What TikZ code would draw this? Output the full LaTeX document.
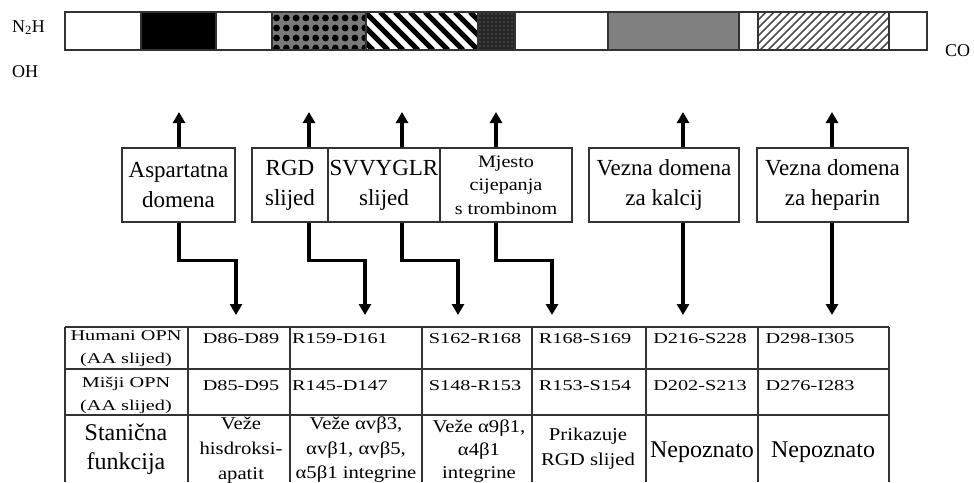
\documentclass[tikz,border=0pt]{standalone}
\usepackage{fontspec}
\setmainfont{Liberation Serif}
\newfontfamily\widefont[FakeStretch=1.35]{Liberation Serif}
\newfontfamily\midfont[FakeStretch=1.15]{Liberation Serif}
\usetikzlibrary{arrows.meta}
\begin{document}
\begin{tikzpicture}[x=1pt,y=-1pt,
  boxlbl/.style={draw=black!80, line width=1.3pt, inner sep=0pt, align=center, font=\fontsize{23}{30}\selectfont},
  arr/.style={line width=3.6pt, -{Triangle[width=12pt,length=11pt]}},
  tline/.style={draw=black!80, line width=1.3pt},
  small/.style={font=\widefont\fontsize{15}{23}\selectfont, inner sep=0pt, anchor=base},
  mid/.style={font=\midfont\fontsize{18}{25}\selectfont, inner sep=0pt, anchor=base},
  big/.style={font=\fontsize{24}{30}\selectfont, inner sep=0pt, anchor=base},
  endlbl/.style={font=\fontsize{18}{20}\selectfont, inner sep=0pt},
]
\useasboundingbox (0,0) rectangle (974,482);
\fill[white] (0,0) rectangle (974,482);

% ---------- protein bar ----------
\fill[black] (141,12) rectangle (216,50);
\begin{scope}
  \clip (272,12) rectangle (366,50);
  \fill[black!52] (272,12) rectangle (366,50);
  \foreach \xx in {276.5,286.3,...,370} {
    \foreach \yy in {18,28,38,48} {
      \fill[black] (\xx,\yy) circle (3.4);
    }
  }
\end{scope}
\begin{scope}
  \clip (366,12) rectangle (478,50);
  \foreach \xx in {320,335,...,480} {
    \draw[black, line width=5pt] (\xx,12) -- (\xx+38,50);
  }
\end{scope}
\begin{scope}
  \clip (478,12) rectangle (515,50);
  \fill[black!85] (478,12) rectangle (515,50);
  \foreach \xx in {480,484,...,515} {
    \foreach \yy in {14,18,...,50} {
      \fill[white!55!black] (\xx,\yy) circle (0.7);
    }
  }
\end{scope}
\fill[black!50] (608,12) rectangle (739,50);
\begin{scope}
  \clip (758,12) rectangle (889,50);
  \foreach \xx in {720,728,...,890} {
    \draw[black!75, line width=1.4pt] (\xx,50) -- (\xx+38,12);
  }
\end{scope}
\draw[black!80, line width=1.4pt] (65,12) rectangle (927,50);
\foreach \xx in {141,216,272,366,478,515,608,739,758,889} {
  \draw[black!80, line width=1.2pt] (\xx,12) -- (\xx,50);
}

\node[endlbl, anchor=base west] (nh) at (12,32) {N\textsubscript{2}H};
\node[endlbl, anchor=base west] (oh) at (12,77) {OH};
\node[endlbl, anchor=base west] (co) at (945,56) {CO};

% ---------- label boxes ----------
\node[boxlbl, minimum width=113pt, minimum height=74pt] (asp) at (178.5,185) {Aspartatna\\domena};
\node[boxlbl, minimum width=76pt, minimum height=74pt] (rgd) at (290,185) {RGD\\slijed};
\node[boxlbl, minimum width=112pt, minimum height=74pt] (svv) at (384,185) {SVVYGLR\\slijed};
\node[boxlbl, minimum width=132pt, minimum height=74pt, font=\midfont\fontsize{17.5}{23.5}\selectfont] (mje) at (506,185) {Mjesto\\cijepanja\\s trombinom};
\node[boxlbl, minimum width=150pt, minimum height=74pt] (cal) at (664,185) {Vezna domena\\za kalcij};
\node[boxlbl, minimum width=151pt, minimum height=74pt] (hep) at (832.5,185) {Vezna domena\\za heparin};

% ---------- arrows ----------
\coordinate (uA) at (179,112);
\coordinate (uR) at (309,112);
\coordinate (uS) at (402,112);
\coordinate (uM) at (496,112);
\coordinate (uC) at (683,112);
\coordinate (uH) at (832,112);
\coordinate (dA) at (236,315);
\coordinate (dR) at (365,315);
\coordinate (dS) at (458,315);
\coordinate (dM) at (552,315);
\coordinate (dC) at (683,315);
\coordinate (dH) at (832,315);

\draw[arr] (asp.north -| uA) -- (uA);
\draw[arr] (rgd.north -| uR) -- (uR);
\draw[arr] (svv.north -| uS) -- (uS);
\draw[arr] (mje.north -| uM) -- (uM);
\draw[arr] (cal.north -| uC) -- (uC);
\draw[arr] (hep.north -| uH) -- (uH);

\draw[arr] (asp.south -| uA) -- ++(0,38) -| (dA);
\draw[arr] (rgd.south -| uR) -- ++(0,38) -| (dR);
\draw[arr] (svv.south -| uS) -- ++(0,38) -| (dS);
\draw[arr] (mje.south -| uM) -- ++(0,38) -| (dM);
\draw[arr] (cal.south -| dC) -- (dC);
\draw[arr] (hep.south -| dH) -- (dH);

% ---------- table ----------
\foreach \yy in {327,369,415} {
  \draw[tline] (65,\yy) -- (889,\yy);
}
\foreach \xx in {65,188,290,422,532,646,758,889} {
  \draw[tline] (\xx,327) -- (\xx,482);
}

\node[small] (h1) at (126,340) {Humani OPN};
\node[small] (h2) at (126,363) {(AA slijed)};
\node[small] (h3) at (241,343) {D86-D89};
\node[small] (h4) at (340,343) {R159-D161};
\node[small] (h5) at (475,343) {S162-R168};
\node[small] (h6) at (585,343) {R168-S169};
\node[small] (h7) at (700,343) {D216-S228};
\node[small] (h8) at (810,343) {D298-I305};

\node[small] (m1) at (126,387) {Mišji OPN};
\node[small] (m2) at (126,410) {(AA slijed)};
\node[small] (m3) at (241,390) {D85-D95};
\node[small] (m4) at (340,390) {R145-D147};
\node[small] (m5) at (475,390) {S148-R153};
\node[small] (m6) at (585,390) {R153-S154};
\node[small] (m7) at (700,390) {D202-S213};
\node[small] (m8) at (810,390) {D276-I283};

\node[big] (f1) at (126,440) {Stanična};
\node[big] (f2) at (126,469) {funkcija};
\node[mid] (f3) at (241,429) {Veže};
\node[mid] (f4) at (241,454) {hisdroksi-};
\node[mid] (f5) at (241,479) {apatit};
\node[mid] (f6) at (356,429) {Veže αvβ3,};
\node[mid] (f7) at (356,454) {αvβ1, αvβ5,};
\node[mid] (f8) at (356,478) {α5β1 integrine};
\node[mid] (f9) at (479,432) {Veže α9β1,};
\node[mid] (f10) at (479,455) {α4β1};
\node[mid] (f11) at (479,478) {integrine};
\node[mid] (f12) at (588,440) {Prikazuje};
\node[mid] (f13) at (588,465) {RGD slijed};
\node[big] (f14) at (702,457) {Nepoznato};
\node[big] (f15) at (823,457) {Nepoznato};
\end{tikzpicture}
\end{document}
